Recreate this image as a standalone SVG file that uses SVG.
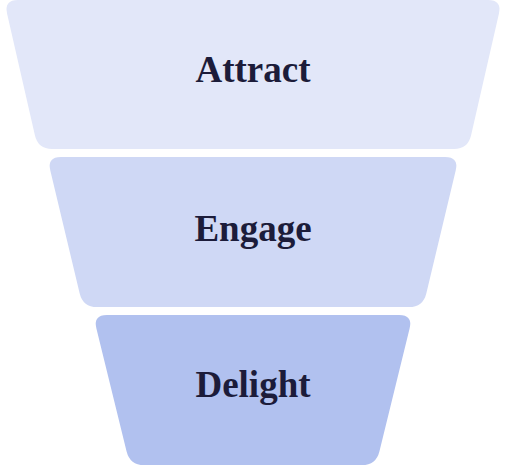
<svg xmlns="http://www.w3.org/2000/svg" width="506" height="466" viewBox="0 0 506 466">
<style>
.lbl{font-family:"Liberation Serif","DejaVu Serif",serif;font-weight:bold;font-size:37px;fill:#1C1C3A;text-anchor:middle}
</style>
<rect width="506" height="466" fill="#FFFFFF"/>
<g id="attract">
<path d="M18,0 L488,0 Q502,0 498.9,13.65 L471.1,135.35 Q468,149 454,149 L52,149 Q38,149 34.9,135.35 L7.1,13.65 Q4,0 18,0 Z" fill="#E2E7F9"/>
<text class="lbl" x="253" y="82">Attract</text>
</g>
<g id="engage">
<path d="M61,157 L445,157 Q459,157 455.7,170.6 L426.3,293.4 Q423,307 409,307 L97,307 Q83,307 79.7,293.4 L50.3,170.6 Q47,157 61,157 Z" fill="#CFD8F5"/>
<text class="lbl" x="253" y="241">Engage</text>
</g>
<g id="delight">
<path d="M107,315 L399,315 Q413,315 409.6,328.6 L379.4,451.4 Q376,465 362,465 L144,465 Q130,465 126.6,451.4 L96.4,328.6 Q93,315 107,315 Z" fill="#B1C1EF"/>
<text class="lbl" x="253" y="397">Delight</text>
</g>
<g id="connectors"/>
</svg>
